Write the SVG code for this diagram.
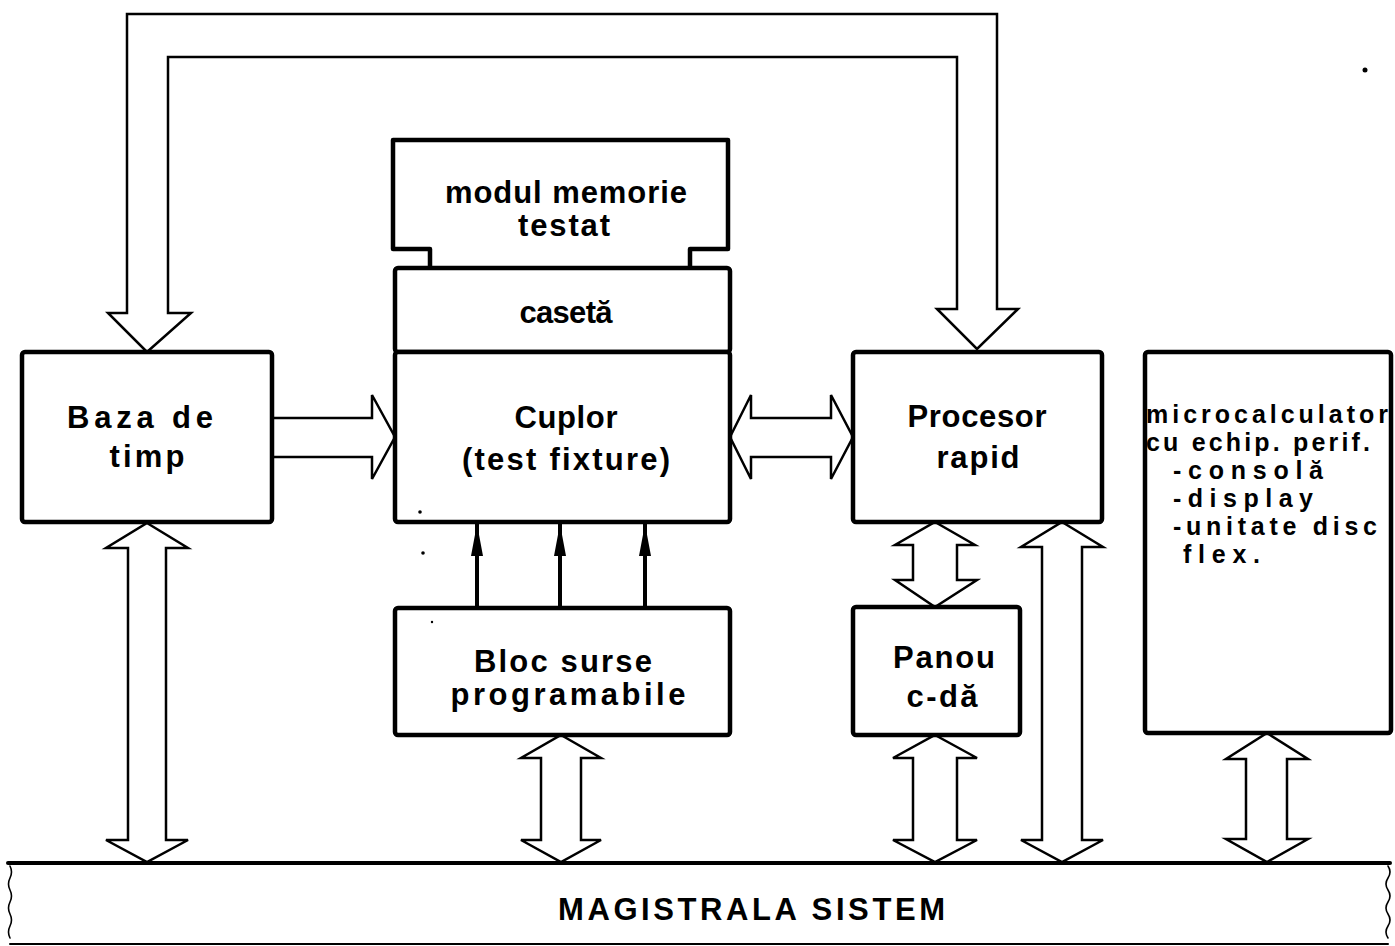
<svg xmlns="http://www.w3.org/2000/svg" width="1395" height="946" viewBox="0 0 1395 946">
  <style>
    .box { fill: #ffffff; stroke: #000000; stroke-width: 4.5; stroke-linejoin: round; }
    .bus { fill: none; stroke: #000000; stroke-linecap: round; }
    .wide { fill: #ffffff; stroke: #000000; stroke-width: 2.5; stroke-linejoin: miter; }
    .wire { fill: none; stroke: #000000; stroke-width: 4; }
    .head { fill: #000000; stroke: none; }
    .lbl { font-family: "Liberation Sans", "DejaVu Sans", Arial, sans-serif; font-size: 31px; font-weight: bold; fill: #000000; }
    .sm { font-size: 25px; }
    .mid { text-anchor: middle; }
    .speck { fill: #000000; }
  </style>

  <rect x="0" y="0" width="1395" height="946" fill="#ffffff"/>

  <!-- wide data paths and control wires -->
  <g id="connectors">
    <!-- loop from Procesor rapid over the top down to Baza de timp -->
    <path class="wide" d="M108,313 L127,313 L127,14 L997,14 L997,309 L1018,309 L977,349 L937,309 L957,309 L957,57 L168,57 L168,313 L191,313 L147,352 Z"/>
    <!-- Baza de timp -> Cuplor -->
    <path class="wide" d="M273,418 L372,418 L372,395 L395,437 L372,479 L372,457 L273,457"/>
    <!-- Cuplor <-> Procesor rapid -->
    <path class="wide" d="M730,437 L751,395 L751,418 L831,418 L831,395 L853,437 L831,479 L831,457 L751,457 L751,479 Z"/>
    <!-- Baza de timp <-> bus -->
    <path class="wide" d="M147,523 L188,548 L166,548 L166,840 L188,840 L147,862 L106,840 L128,840 L128,548 L106,548 Z"/>
    <!-- Bloc surse <-> bus -->
    <path class="wide" d="M561,735 L601,758 L581,758 L581,840 L601,840 L561,862 L521,840 L541,840 L541,758 L521,758 Z"/>
    <!-- Procesor <-> Panou -->
    <path class="wide" d="M935,522 L975,545 L957,545 L957,580 L977,580 L935,607 L895,580 L913,580 L913,545 L895,545 Z"/>
    <!-- Panou <-> bus -->
    <path class="wide" d="M935,735 L977,758 L957,758 L957,840 L977,840 L935,862 L893,840 L913,840 L913,758 L893,758 Z"/>
    <!-- Procesor <-> bus -->
    <path class="wide" d="M1062,522 L1103,547 L1082,547 L1082,840 L1103,840 L1062,862 L1021,840 L1042,840 L1042,547 L1021,547 Z"/>
    <!-- microcalculator <-> bus -->
    <path class="wide" d="M1267,733 L1308,759 L1287,759 L1287,839 L1308,839 L1267,862 L1226,839 L1246,839 L1246,759 L1226,759 Z"/>
    <!-- supply lines from Bloc surse up to Cuplor -->
    <line class="wire" x1="477" y1="524" x2="477" y2="608"/>
    <line class="wire" x1="560" y1="524" x2="560" y2="608"/>
    <line class="wire" x1="645" y1="524" x2="645" y2="608"/>
    <polygon class="head" points="471,556 477,524 483,556"/>
    <polygon class="head" points="554,556 560,524 566,556"/>
    <polygon class="head" points="639,556 645,524 651,556"/>
  </g>

  <g id="modul-memorie">
    <path class="box" d="M430,268 L430,249 L393,249 L393,140 L728,140 L728,249 L690,249 L690,268"/>
    <text class="lbl mid" x="566" y="203" font-size="26" textLength="242" lengthAdjust="spacing">modul memorie</text>
    <text class="lbl mid" x="564" y="236" font-size="26" textLength="92" lengthAdjust="spacing">testat</text>
  </g>

  <g id="caseta">
    <rect class="box" x="395" y="268" width="335" height="84" rx="3"/>
    <text class="lbl mid" x="566" y="323" textLength="93" lengthAdjust="spacing">casetă</text>
  </g>

  <g id="cuplor">
    <rect class="box" x="395" y="352" width="335" height="170" rx="3"/>
    <text class="lbl mid" x="566" y="428" textLength="103" lengthAdjust="spacing">Cuplor</text>
    <text class="lbl mid" x="566" y="470" textLength="208" lengthAdjust="spacing">(test fixture)</text>
  </g>

  <g id="baza-de-timp">
    <rect class="box" x="22" y="352" width="250" height="170" rx="3"/>
    <text class="lbl mid" x="140" y="428" textLength="146" lengthAdjust="spacing">Baza de</text>
    <text class="lbl mid" x="147" y="467" textLength="75" lengthAdjust="spacing">timp</text>
  </g>

  <g id="procesor-rapid">
    <rect class="box" x="853" y="352" width="249" height="170" rx="3"/>
    <text class="lbl mid" x="977" y="427" textLength="139" lengthAdjust="spacing">Procesor</text>
    <text class="lbl mid" x="978" y="468" textLength="83" lengthAdjust="spacing">rapid</text>
  </g>

  <g id="microcalculator">
    <rect class="box" x="1145" y="352" width="246" height="381" rx="3"/>
    <text class="lbl sm" x="1146" y="423" textLength="242" lengthAdjust="spacing">microcalculator</text>
    <text class="lbl sm" x="1146" y="451" textLength="224" lengthAdjust="spacing">cu echip. perif.</text>
    <text class="lbl sm" x="1173" y="479" textLength="150" lengthAdjust="spacing">-consolă</text>
    <text class="lbl sm" x="1173" y="507" textLength="140" lengthAdjust="spacing">-display</text>
    <text class="lbl sm" x="1173" y="535" textLength="204" lengthAdjust="spacing">-unitate disc</text>
    <text class="lbl sm" x="1183" y="563" textLength="77" lengthAdjust="spacing">flex.</text>
  </g>

  <g id="bloc-surse">
    <rect class="box" x="395" y="608" width="335" height="127" rx="3"/>
    <text class="lbl mid" x="563" y="672" textLength="178" lengthAdjust="spacing">Bloc surse</text>
    <text class="lbl mid" x="568" y="705" textLength="235" lengthAdjust="spacing">programabile</text>
  </g>

  <g id="panou">
    <rect class="box" x="853" y="607" width="167" height="128" rx="3"/>
    <text class="lbl mid" x="944" y="668" textLength="102" lengthAdjust="spacing">Panou</text>
    <text class="lbl mid" x="942" y="707" textLength="71" lengthAdjust="spacing">c-dă</text>
  </g>

  <g id="magistrala-sistem">
    <line class="bus" x1="8" y1="863" x2="1390" y2="863" stroke-width="4"/>
    <line class="bus" x1="10" y1="944" x2="1388" y2="944" stroke-width="2"/>
    <path class="bus" stroke-width="1.6" d="M10,866 q3,6 0,12 q-3,6 0,12 q3,6 0,12 q-3,6 0,12 q3,6 0,12 q-3,6 0,12"/>
    <path class="bus" stroke-width="1.6" d="M1388,866 q4,6 0,12 q-4,6 0,12 q4,6 0,12 q-4,6 0,12 q4,6 0,12 q-4,6 0,12"/>
    <text class="lbl" x="558" y="920" font-size="30" textLength="387" lengthAdjust="spacing">MAGISTRALA SISTEM</text>
  </g>

  <!-- small ink specks -->
  <circle class="speck" cx="1365" cy="70" r="2.5"/>
  <circle class="speck" cx="420" cy="512" r="1.8"/>
  <circle class="speck" cx="423" cy="553" r="1.8"/>
  <circle class="speck" cx="432" cy="622" r="1.2"/>
</svg>
